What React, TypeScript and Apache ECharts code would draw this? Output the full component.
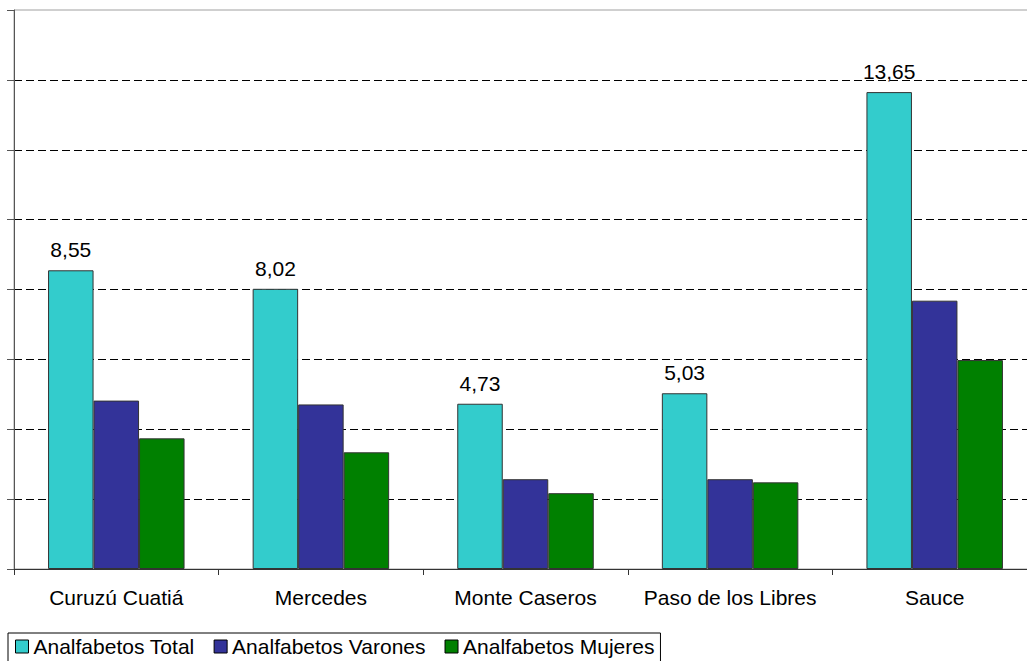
import React, { useEffect, useRef } from "react";
import * as echarts from "echarts";

// Departamentos
const categories = ["Curuzú Cuatiá", "Mercedes", "Monte Caseros", "Paso de los Libres", "Sauce"];

// Porcentaje de analfabetos
const totalValues = [8.55, 8.02, 4.73, 5.03, 13.65];
const varonesValues = [4.82, 4.71, 2.57, 2.57, 7.68];
const mujeresValues = [3.74, 3.34, 2.17, 2.48, 5.98];

const seriesNames = ["Analfabetos Total", "Analfabetos Varones", "Analfabetos Mujeres"];
const seriesColors = ["#33CCCC", "#333399", "#008000"];

const yMin = 0;
const yMax = 16;
const yInterval = 2;

const FONT = "Arial, 'Liberation Sans', sans-serif";

const fmtComma = (v: number) => v.toFixed(2).replace(".", ",");

export default function App() {
  const ref = useRef<HTMLDivElement>(null);

  useEffect(() => {
    if (!ref.current) return;
    const chart = echarts.init(ref.current, undefined, { renderer: "svg" });
    const values = [totalValues, varonesValues, mujeresValues];

    chart.setOption({
      animation: false,
      backgroundColor: "#ffffff",
      textStyle: { fontFamily: FONT },
      grid: {
        left: 14,
        top: 10,
        right: 3,
        height: 559,
        show: true,
        borderColor: "#a0a0a0",
        borderWidth: 1,
        backgroundColor: "transparent",
      },
      legend: {
        left: 8,
        top: 633,
        orient: "horizontal",
        data: seriesNames,
        icon: "rect",
        itemWidth: 13,
        itemHeight: 13,
        itemGap: 19,
        padding: [3, 6, 6, 7],
        borderColor: "#000",
        borderWidth: 1,
        borderRadius: 0,
        backgroundColor: "#fff",
        itemStyle: { borderColor: "#000", borderWidth: 1 },
        textStyle: { fontSize: 21, color: "#000", fontFamily: FONT },
      },
      xAxis: {
        type: "category",
        data: categories,
        axisLine: { show: true, lineStyle: { color: "#333", width: 1 } },
        axisTick: { show: true, length: 6, alignWithLabel: false, lineStyle: { color: "#333" } },
        axisLabel: { fontSize: 21, color: "#000", margin: 18, fontFamily: FONT, interval: 0 },
        splitLine: { show: false },
      },
      yAxis: {
        type: "value",
        min: yMin,
        max: yMax,
        interval: yInterval,
        axisLine: { show: true, lineStyle: { color: "#555", width: 1 } },
        axisTick: { show: true, length: 7, lineStyle: { color: "#555" } },
        axisLabel: { show: false },
        splitLine: {
          show: true,
          showMinLine: false,
          showMaxLine: false,
          lineStyle: { color: "#000", width: 1, type: [8, 4] },
        },
      },
      series: seriesNames.map((name, i) => ({
        name,
        type: "bar",
        data: values[i],
        barWidth: 45.5,
        barGap: "0%",
        itemStyle: { color: seriesColors[i], borderColor: "#333", borderWidth: 1 },
        label:
          i === 0
            ? {
                show: true,
                position: "top",
                distance: 10,
                fontSize: 21,
                color: "#000",
                fontFamily: FONT,
                formatter: (p: any) => fmtComma(p.value),
              }
            : { show: false },
      })),
    });

    return () => chart.dispose();
  }, []);

  return (
    <div
      style={{
        position: "absolute",
        left: 0,
        top: 0,
        width: 1027,
        height: 661,
        overflow: "hidden",
        background: "#fff",
      }}
    >
      <div ref={ref} style={{ width: 1040, height: 661 }} />
    </div>
  );
}
